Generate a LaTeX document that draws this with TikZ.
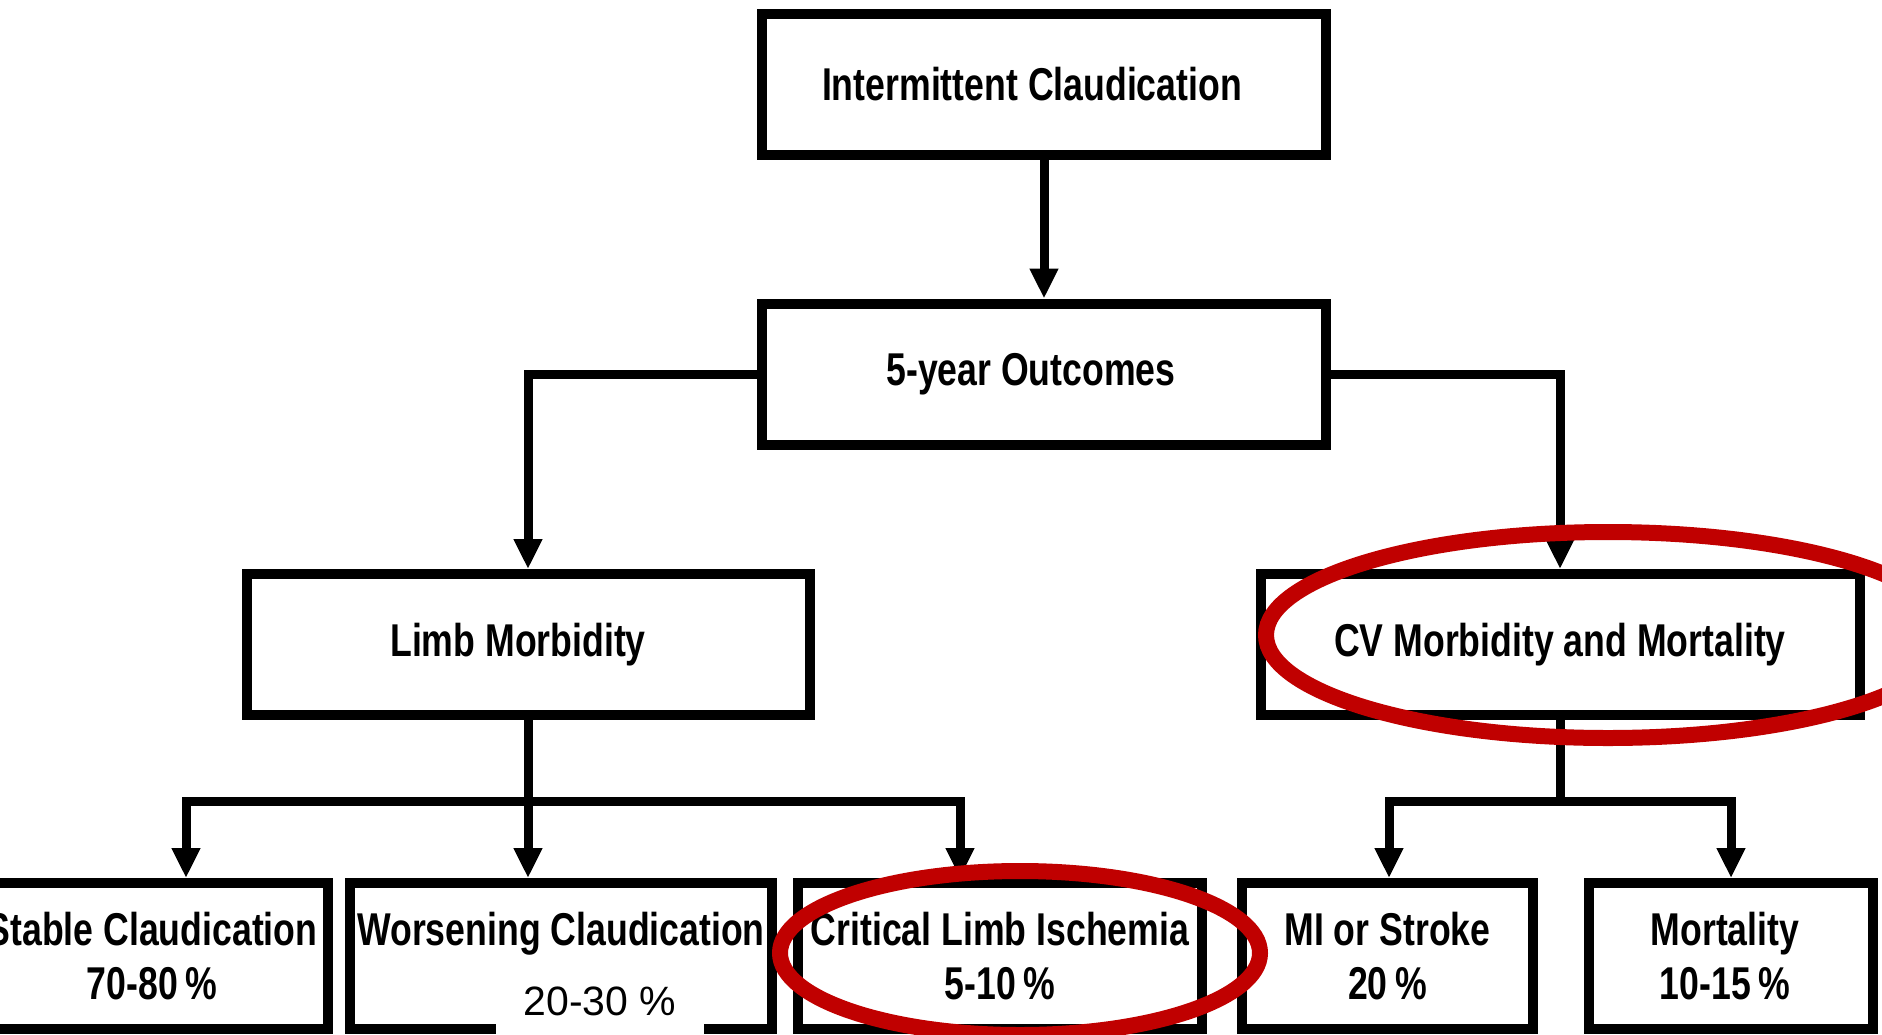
\documentclass[tikz,border=0pt]{standalone}
\usepackage{fontspec}
\usetikzlibrary{arrows.meta}
\newfontfamily\lblfont[FakeStretch=0.775]{Liberation Sans}
\newfontfamily\plainfont{Liberation Sans}
\definecolor{markred}{RGB}{192,0,0}
\begin{document}
\begin{tikzpicture}[x=1pt,y=-1pt,
  box/.style={draw, line width=10pt, fill=white, inner sep=0pt, align=center,
    font=\lblfont\bfseries\fontsize{46}{54}\selectfont},
  topbox/.style={box, minimum height=141pt},
  lowbox/.style={box, minimum height=146pt},
  conn/.style={line width=9pt, line join=miter, -{Triangle[width=27pt,length=30pt]}},
  plainline/.style={line width=9pt, line join=miter},
  redring/.style={draw=markred, line width=16pt}
]
\useasboundingbox (0,0) rectangle (1882,1034);
\clip (0,0) rectangle (1882,1034);
\fill[white] (0,0) rectangle (1882,1034);

% boxes
\node[topbox, minimum width=564pt] (ic) at (1044,84) {Intermittent Claudication\hspace*{24pt}};
\node[topbox, minimum width=564pt] (out) at (1044,374) {5-year Outcomes\hspace*{26pt}};
\node[topbox, minimum width=563pt] (limb) at (528,644.5) {Limb Morbidity\hspace*{20pt}};
\node[topbox, minimum width=599pt] (cv) at (1560,644.5) {CV Morbidity and Mortality};

\node[lowbox, minimum width=352pt] (stable) at (152,956) {Stable Claudication\\70-80\,\%};
\node[lowbox, minimum width=422pt] (wors) at (561,956) {Worsening Claudication\\\phantom{0}};
\node[lowbox, minimum width=404pt] (cli) at (1000,956) {Critical Limb Ischemia\\5-10\,\%};
\node[lowbox, minimum width=291pt] (mi) at (1387.5,956) {MI or Stroke\\20\,\%};
\node[lowbox, minimum width=284pt] (mort) at (1731,956) {Mortality\hspace*{12pt}\\10-15\,\%\hspace*{12pt}};

% bus coordinates
\coordinate (b1) at (186,801);
\coordinate (b3) at (960,801);
\coordinate (c1) at (1389,801);
\coordinate (c2) at (1731,801);

% connectors
\draw[conn] (ic.south) -- (out.north);
\draw[conn] (out.west) -| (limb.north);
\draw[conn] (out.east) -| (cv.north);

\draw[conn] (limb.south) -- (limb.south |- wors.north);
\draw[conn] (b3) -- (b1) -- (b1 |- stable.north);
\draw[conn] (b1) -- (b3) -- (b3 |- cli.north);

\draw[plainline] (cv.south) -- (cv.south |- c1);
\draw[conn] (c2) -- (c1) -- (c1 |- mi.north);
\draw[conn] (c1) -- (c2) -- (c2 |- mort.north);

% overlay patch with new percentage
\node[fill=white, inner sep=0pt, minimum width=208pt, minimum height=80pt,
  font=\plainfont\fontsize{41}{49}\selectfont] (pct) at (600,1001) {20-30 \%};

% red annotation ellipses
\draw[redring] (1020,953) ellipse [x radius=240pt, y radius=82pt];
\draw[redring] (1608,635) ellipse [x radius=342pt, y radius=103pt];
\end{tikzpicture}
\end{document}
